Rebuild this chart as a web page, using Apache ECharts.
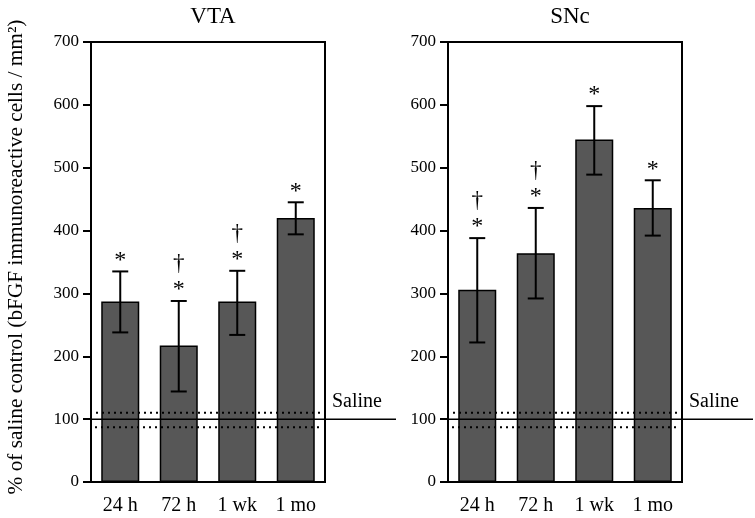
<!DOCTYPE html>
<html>
<head>
<meta charset="utf-8">
<script src="https://cdn.jsdelivr.net/npm/echarts@6/dist/echarts.min.js"></script>
<style>
html, body { margin: 0; padding: 0; background: #fff; }
#main { width: 755px; height: 518px; }
</style>
</head>
<body>
<div id="main"></div>
<script>
// values (% of saline control)
var categories = ['24 h', '72 h', '1 wk', '1 mo'];

var vtaValues  = [287, 217, 287, 420];
var vtaErrHigh = [335, 288, 336, 445];
var vtaErrLow  = [238, 144, 234, 394];
var vtaDagger  = [0, 1, 1, 0];

var sncValues  = [306, 364, 545, 436];
var sncErrHigh = [388, 436, 598, 480];
var sncErrLow  = [222, 292, 489, 392];
var sncDagger  = [1, 1, 0, 0];

// saline mean and the dotted band around it
var salineMean = 100;
var salineBand = [87, 110];

var FONT = 'Liberation Serif';

function errData(hi, lo) {
    return categories.map(function (c, i) { return [i, hi[i], lo[i]]; });
}
function sigData(hi, dag) {
    return categories.map(function (c, i) { return [i, hi[i], dag[i]]; });
}

function renderErr(params, api) {
    var top = api.coord([api.value(0), api.value(1)]);
    var bot = api.coord([api.value(0), api.value(2)]);
    var half = 8;
    var st = { stroke: '#000', lineWidth: 2 };
    return {
        type: 'group',
        children: [
            { type: 'line', shape: { x1: top[0], y1: top[1], x2: bot[0], y2: bot[1] }, style: st },
            { type: 'line', shape: { x1: top[0] - half, y1: top[1], x2: top[0] + half, y2: top[1] }, style: st },
            { type: 'line', shape: { x1: bot[0] - half, y1: bot[1], x2: bot[0] + half, y2: bot[1] }, style: st }
        ]
    };
}

function renderSig(params, api) {
    var p = api.coord([api.value(0), api.value(1)]);
    var kids = [{
        type: 'text', x: p[0], y: p[1] - 11,
        style: { text: '*', font: '24px "' + FONT + '"', fill: '#000', align: 'center', verticalAlign: 'middle' }
    }];
    if (api.value(2)) {
        kids.push({
            type: 'text', x: p[0], y: p[1] - 37,
            style: { text: '\u2020', font: '23px "' + FONT + '"', fill: '#000', align: 'center', verticalAlign: 'middle' }
        });
    }
    return { type: 'group', children: kids };
}

function renderSaline(params, api) {
    var cs = params.coordSys;
    var yMid = api.coord([0, api.value(1)])[1];
    var yLow = api.coord([0, api.value(2)])[1];
    var yHigh = api.coord([0, api.value(3)])[1];
    var right = cs.x + cs.width;
    var dot = { stroke: '#000', lineWidth: 2, lineDash: [2, 4] };
    return {
        type: 'group',
        children: [
            { type: 'line', shape: { x1: cs.x, y1: yMid, x2: right + 71, y2: yMid }, style: { stroke: '#000', lineWidth: 1.5 } },
            { type: 'line', shape: { x1: cs.x + 5, y1: yHigh, x2: right - 2, y2: yHigh }, style: dot },
            { type: 'line', shape: { x1: cs.x + 4, y1: yLow, x2: right - 2, y2: yLow }, style: dot },
            {
                type: 'text', x: right + 7, y: yMid - 7,
                style: { text: 'Saline', font: '20px "' + FONT + '"', fill: '#000', align: 'left', verticalAlign: 'bottom' }
            }
        ]
    };
}

var myChart = echarts.init(document.getElementById('main'));

function xAxisOpt(idx) {
    return {
        type: 'category',
        gridIndex: idx,
        data: categories,
        axisLine: { lineStyle: { color: '#000', width: 2 } },
        axisTick: { alignWithLabel: true, length: 10, lineStyle: { color: '#000', width: 2 } },
        axisLabel: { color: '#000', fontFamily: FONT, fontSize: 20, margin: 14 }
    };
}
function yAxisOpt(idx) {
    return {
        type: 'value',
        gridIndex: idx,
        min: 0, max: 700, interval: 100,
        splitLine: { show: false },
        axisLine: { show: true, lineStyle: { color: '#000', width: 2 } },
        axisTick: { show: true, length: 8, lineStyle: { color: '#000', width: 2 } },
        axisLabel: { color: '#000', fontFamily: FONT, fontSize: 17, margin: 12 }
    };
}

var yLeft = yAxisOpt(0);
yLeft.name = '% of saline control (bFGF immunoreactive cells / mm\u00b2)';
yLeft.nameLocation = 'middle';
yLeft.nameGap = 64;
yLeft.nameTextStyle = { color: '#000', fontFamily: FONT, fontSize: 21.3, padding: [0, 0, 0, 10] };

var barStyle = { color: '#575757', borderColor: '#000', borderWidth: 1.5 };

var option = {
    animation: false,
    backgroundColor: '#fff',
    title: [
        { text: 'VTA', left: 208, top: 0, textAlign: 'center',
          textStyle: { color: '#000', fontFamily: FONT, fontSize: 23, fontWeight: 'normal' } },
        { text: 'SNc', left: 565, top: 0, textAlign: 'center',
          textStyle: { color: '#000', fontFamily: FONT, fontSize: 23, fontWeight: 'normal' } }
    ],
    grid: [
        { left: 91, top: 42, width: 234, height: 440, show: true, borderColor: '#000', borderWidth: 2 },
        { left: 448, top: 42, width: 234, height: 440, show: true, borderColor: '#000', borderWidth: 2 }
    ],
    xAxis: [xAxisOpt(0), xAxisOpt(1)],
    yAxis: [yLeft, yAxisOpt(1)],
    series: [
        { type: 'bar', xAxisIndex: 0, yAxisIndex: 0, data: vtaValues, barWidth: '65%', itemStyle: barStyle, z: 2 },
        { type: 'bar', xAxisIndex: 1, yAxisIndex: 1, data: sncValues, barWidth: '65%', itemStyle: barStyle, z: 2 },
        { type: 'custom', xAxisIndex: 0, yAxisIndex: 0, data: [[0, salineMean, salineBand[0], salineBand[1]]],
          renderItem: renderSaline, z: 3, silent: true },
        { type: 'custom', xAxisIndex: 1, yAxisIndex: 1, data: [[0, salineMean, salineBand[0], salineBand[1]]],
          renderItem: renderSaline, z: 3, silent: true },
        { type: 'custom', xAxisIndex: 0, yAxisIndex: 0, data: errData(vtaErrHigh, vtaErrLow), renderItem: renderErr, z: 4 },
        { type: 'custom', xAxisIndex: 1, yAxisIndex: 1, data: errData(sncErrHigh, sncErrLow), renderItem: renderErr, z: 4 },
        { type: 'custom', xAxisIndex: 0, yAxisIndex: 0, data: sigData(vtaErrHigh, vtaDagger), renderItem: renderSig, z: 4 },
        { type: 'custom', xAxisIndex: 1, yAxisIndex: 1, data: sigData(sncErrHigh, sncDagger), renderItem: renderSig, z: 4 }
    ]
};

myChart.setOption(option);
</script>
</body>
</html>
